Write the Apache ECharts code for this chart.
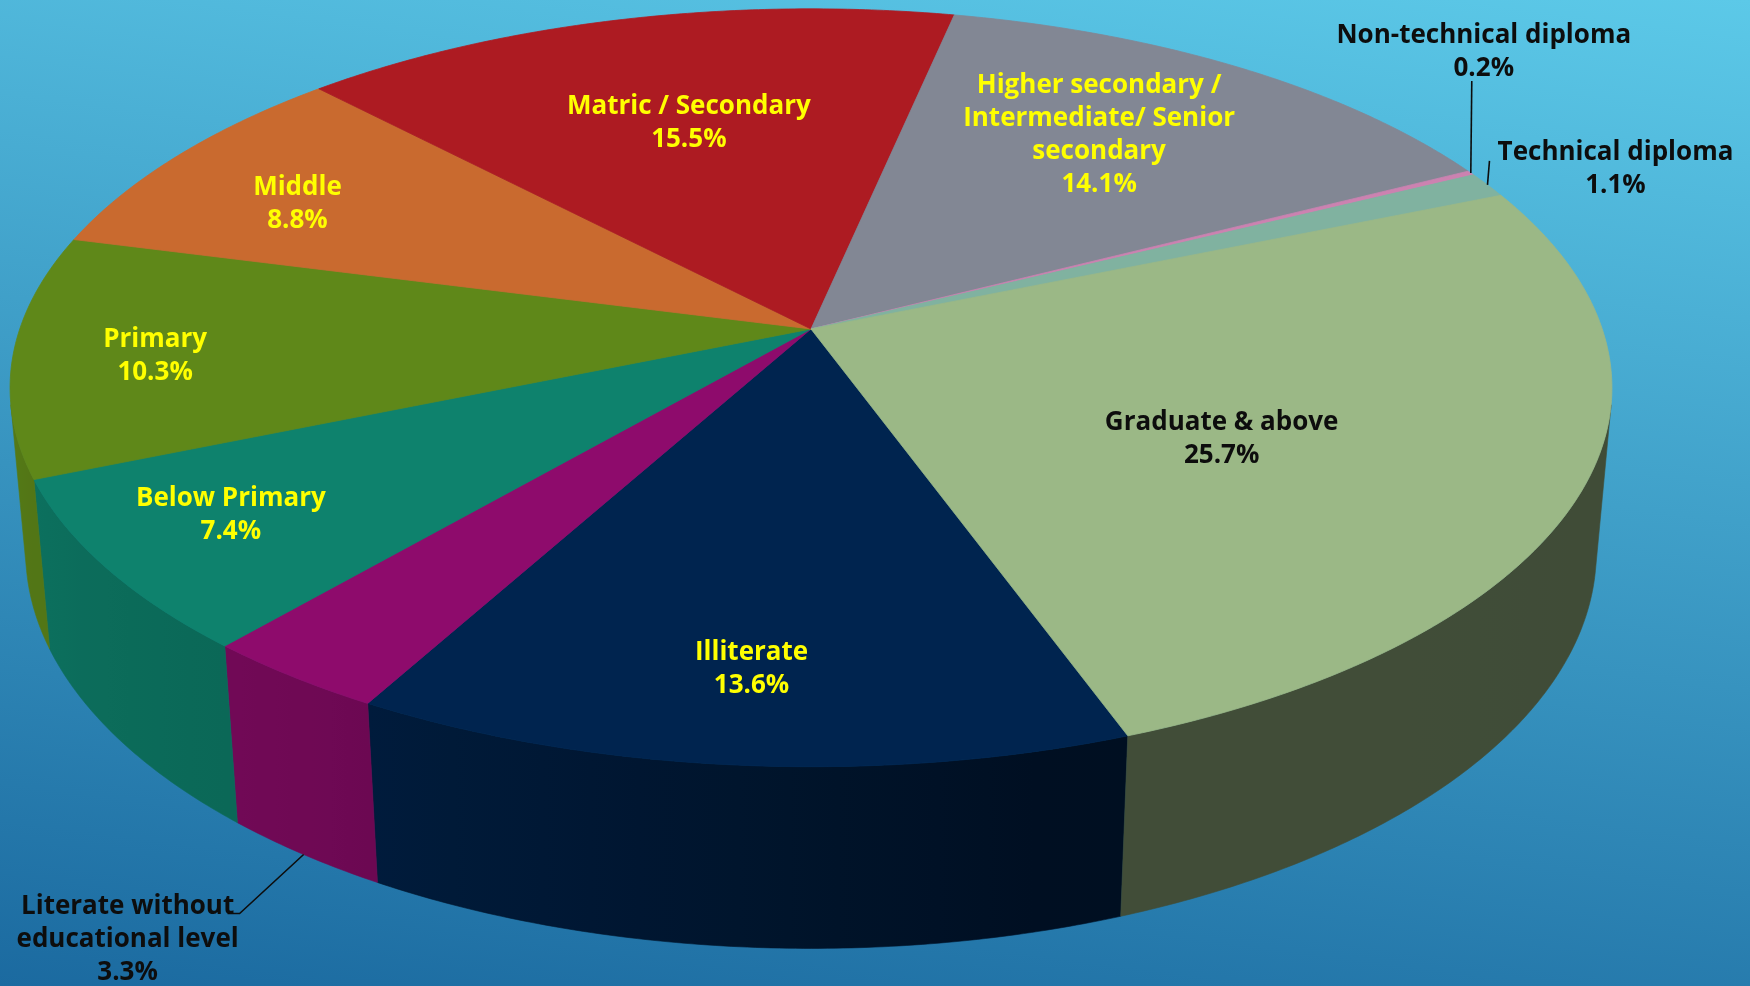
<!DOCTYPE html>
<html>
<head>
<meta charset="utf-8">
<script src="https://cdn.jsdelivr.net/npm/echarts/dist/echarts.min.js"></script>
<style>
  html, body { margin: 0; padding: 0; overflow: hidden; }
  #chart { width: 1750px; height: 986px; }
</style>
</head>
<body>
<div id="chart"></div>
<script>
// Education level shares (%), listed clockwise starting from the front slice
const categories = [
  'Illiterate',
  'Literate without\neducational level',
  'Below Primary',
  'Primary',
  'Middle',
  'Matric / Secondary',
  'Higher secondary /\nIntermediate/ Senior\nsecondary',
  'Non-technical diploma',
  'Technical diploma',
  'Graduate & above'
];
const shares = [13.6, 3.3, 7.4, 10.3, 8.8, 15.5, 14.1, 0.2, 1.1, 25.7];
const sliceColors = ['#00244f', '#8e0b6c', '#0e826d', '#5f8819', '#c96a2f',
                     '#ad1b22', '#828794', '#cc82b0', '#80b2a0', '#9bb886'];
const labelColors = ['#ffff00', '#0d0d0d', '#ffff00', '#ffff00', '#ffff00',
                     '#ffff00', '#ffff00', '#0d0d0d', '#0d0d0d', '#0d0d0d'];

// Where each label sits: inside labels use a radius fraction and an angle nudge
// on the pie surface; outside labels hang off a leader line from the rim.
const labelPlacement = [
  { r: 0.806, da: 0.2 },
  { outside: 'bottom', leader: [[-64, 59], [-76, 59]], text: [-176, 85] },
  { r: 0.824, da: 1.5 },
  { r: 0.823, da: -0.8 },
  { r: 0.773, da: -2.8 },
  { r: 0.634, da: 0.4 },
  { r: 0.698, da: -2.8 },
  { outside: 'top', leader: [[1, -92]], text: [13, -121] },
  { outside: 'top', leader: [[2, -24]], text: [128, -16] },
  { r: 0.571, da: 5.9 }
];

// Camera for the tilted, extruded pie
const VIEW = { cx: 811, cy: 329, F: 4510, D: 5.70, sinE: 0.4674, cosE: 0.884, H: 0.2367 };
const FIRST_SLICE_ANGLE = 160; // degrees clockwise from 12 o'clock

function project(x, y, z) {
  const depth = VIEW.D - y * VIEW.cosE - z * VIEW.sinE;
  return [VIEW.cx + VIEW.F * x / depth,
          VIEW.cy + VIEW.F * (y * VIEW.sinE - z * VIEW.cosE) / depth];
}
function ground(angleDeg, r) {
  const t = angleDeg * Math.PI / 180;
  return [r * Math.sin(t), -r * Math.cos(t)];
}
function arc(a0, a1, z) {
  const n = Math.max(2, Math.ceil((a1 - a0) / 0.5));
  const pts = [];
  for (let k = 0; k <= n; k++) {
    const g = ground(a0 + (a1 - a0) * k / n, 1);
    pts.push(project(g[0], g[1], z));
  }
  return pts;
}

// visible part of the outer wall faces the camera
const wallLimit = Math.acos(-1 / (VIEW.D * VIEW.cosE)) * 180 / Math.PI;
const SIDE_LO = wallLimit, SIDE_HI = 360 - wallLimit;

// lighting on the wall: light falls from the left
const shadeKeys = [[0, 0.40], [165, 0.42], [210, 0.77], [222, 0.8], [240, 0.84], [258, 0.9], [360, 0.9]];
function sideShade(a) {
  a = ((a % 360) + 360) % 360;
  for (let k = 1; k < shadeKeys.length; k++) {
    if (a <= shadeKeys[k][0]) {
      const [x0, y0] = shadeKeys[k - 1], [x1, y1] = shadeKeys[k];
      return y0 + (y1 - y0) * (a - x0) / (x1 - x0);
    }
  }
  return 0.9;
}
function shadeColor(hex, f) {
  const n = parseInt(hex.slice(1), 16);
  const r = Math.round(((n >> 16) & 255) * f), g = Math.round(((n >> 8) & 255) * f), b = Math.round((n & 255) * f);
  return 'rgb(' + r + ',' + g + ',' + b + ')';
}

const total = shares.reduce((a, b) => a + b, 0);
const bounds = [];
(function () {
  let acc = 0;
  shares.forEach(v => {
    const a0 = FIRST_SLICE_ANGLE + acc / total * 360;
    acc += v;
    bounds.push([a0, FIRST_SLICE_ANGLE + acc / total * 360]);
  });
})();

const FONT = 'bold 26px "Open Sans", Lato, sans-serif';

function renderSlice(params, api) {
  const i = params.dataIndex;
  const value = api.value(0);
  const [a0, a1] = bounds[i];
  const color = sliceColors[i];
  const children = [];

  // outer wall
  [[SIDE_LO, SIDE_HI], [SIDE_LO + 360, SIDE_HI + 360]].forEach(([lo, hi]) => {
    const s = Math.max(a0, lo), e = Math.min(a1, hi);
    if (e - s <= 0.01) return;
    const topPts = arc(s, e, 0), botPts = arc(s, e, -VIEW.H);
    const pts = topPts.concat(botPts.slice().reverse());
    const xs = pts.map(p => p[0]);
    const minX = Math.min.apply(null, xs), maxX = Math.max.apply(null, xs);
    const stops = [];
    const n = 8;
    for (let k = 0; k <= n; k++) {
      const a = s + (e - s) * k / n;
      const g = ground(a, 1);
      const p = project(g[0], g[1], 0);
      const off = Math.min(1, Math.max(0, (p[0] - minX) / Math.max(1, maxX - minX)));
      stops.push({ offset: off, color: shadeColor(color, sideShade(a)) });
    }
    stops.sort((p, q) => p.offset - q.offset);
    children.push({
      type: 'polygon', z2: 1,
      shape: { points: pts },
      style: { fill: new echarts.graphic.LinearGradient(0, 0, 1, 0, stops), stroke: shadeColor(color, sideShade((s + e) / 2)), lineWidth: 0.6 }
    });
  });

  // top face
  const apex = project(0, 0, 0);
  children.push({
    type: 'polygon', z2: 2,
    shape: { points: [apex].concat(arc(a0, a1, 0)) },
    style: { fill: color, stroke: color, lineWidth: 0.8 }
  });

  // label
  const text = categories[i] + '\n' + value.toFixed(1) + '%';
  const lp = labelPlacement[i];
  const mid = (a0 + a1) / 2;
  let tx, ty;
  if (lp.outside) {
    const g = ground(mid, 1);
    const anchor = project(g[0], g[1], lp.outside === 'bottom' ? -VIEW.H : 0);
    const line = [anchor].concat(lp.leader.map(d => [anchor[0] + d[0], anchor[1] + d[1]]));
    children.push({
      type: 'polyline', z2: 9,
      shape: { points: line },
      style: { stroke: '#0d0d0d', lineWidth: 1.6, fill: null }
    });
    tx = anchor[0] + lp.text[0];
    ty = anchor[1] + lp.text[1];
  } else {
    const g = ground(mid + lp.da, lp.r);
    [tx, ty] = project(g[0], g[1], 0);
    ty += 1;
  }
  children.push({
    type: 'text', z2: 10,
    style: {
      text: text, x: tx, y: ty,
      fill: labelColors[i], font: FONT,
      align: 'center', verticalAlign: 'middle', lineHeight: 33
    }
  });

  return { type: 'group', children: children };
}

const chart = echarts.init(document.getElementById('chart'), null, { renderer: 'canvas' });
chart.setOption({
  animation: false,
  graphic: [{
    type: 'rect', z: -100, silent: true,
    shape: { x: 0, y: 0, width: 1750, height: 986 },
    style: {
      fill: new echarts.graphic.LinearGradient(29, -224, -126, 970, [
        { offset: 0, color: '#5cc9e8' },
        { offset: 1, color: '#1b6aa0' }
      ], true)
    }
  }],
  series: [{
    type: 'custom',
    coordinateSystem: 'none',
    renderItem: renderSlice,
    data: shares.map((v, i) => ({ name: categories[i], value: [v] }))
  }]
});
</script>
</body>
</html>
